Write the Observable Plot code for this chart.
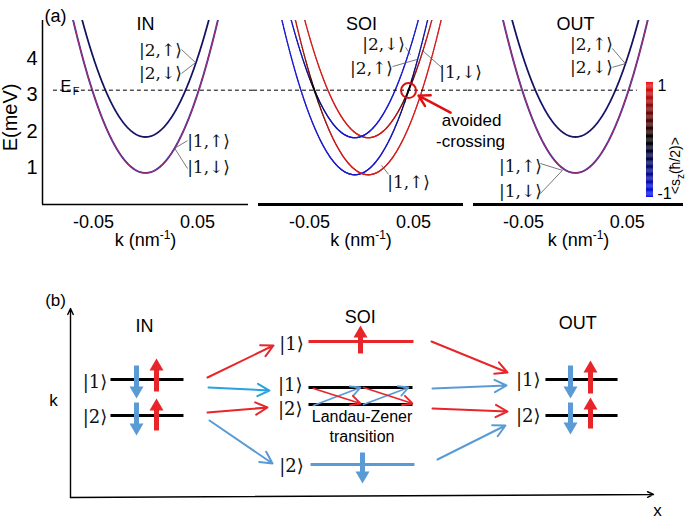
<!DOCTYPE html>
<html><head><meta charset="utf-8">
<script src="https://cdn.jsdelivr.net/npm/d3@7"></script>
<script src="https://cdn.jsdelivr.net/npm/@observablehq/plot@0.6"></script>
<style>
html,body{margin:0;padding:0;background:#fff;}
#root{position:relative;width:685px;height:519px;overflow:hidden;background:#fff;}
#root svg{position:absolute;}
</style></head><body><div id="root"></div>
<script>
// ================= DATA =================
// panel (a): band structure
const panelNames = ["IN", "SOI", "OUT"];
const kTickValues = [-0.05, 0.05];
const eTickValues = [1, 2, 3, 4];
const fermiEnergy = 3.13;                 // meV
const bandCurvature = 870;                // meV nm^2
const subbandMinimaLead = [0.85, 1.84];   // IN / OUT subband bottoms (meV)
const subbandMinimaSOI = [0.80, 1.82];    // SOI subband bottoms (meV)
const spinOrbitShift = 0.0065;            // nm^-1
const mixingCoupling = 0.1;               // meV (spin mixing near anticrossing)
const gapCoupling = 0.02;                 // meV
const kSamples = d3.range(-0.115, 0.11501, 0.0005);
const colorbarValues = d3.range(-1, 1, 0.02);
const colorbarTicks = [1, -1];

const ketLabelsIN = [
  {t: "|2,↑⟩", k: 0.0144, E: 4.22}, {t: "|2,↓⟩", k: 0.0144, E: 3.59},
  {t: "|1,↑⟩", k: 0.0606, E: 1.72}, {t: "|1,↓⟩", k: 0.0606, E: 1.00}
];
const leadersIN = [
  {k1: 0.0346, E1: 4.25, k2: 0.0481, E2: 3.89}, {k1: 0.0346, E1: 3.59, k2: 0.0481, E2: 3.89},
  {k1: 0.0404, E1: 1.74, k2: 0.028, E2: 1.53}, {k1: 0.0404, E1: 0.97, k2: 0.028, E2: 1.53}
];
const ketLabelsSOI = [
  {t: "|2,↓⟩", k: 0.0212, E: 4.39}, {t: "|2,↑⟩", k: 0.0096, E: 3.73},
  {t: "|1,↓⟩", k: 0.0952, E: 3.62}, {t: "|1,↑⟩", k: 0.0452, E: 0.59}
];
const leadersSOI = [
  {k1: 0.0423, E1: 4.31, k2: 0.0471, E2: 4.11}, {k1: 0.0298, E1: 3.78, k2: 0.0538, E2: 3.98},
  {k1: 0.0779, E1: 3.73, k2: 0.0587, E2: 4.22}, {k1: 0.026, E1: 0.81, k2: 0.0192, E2: 1.06}
];
const ketLabelsOUT = [
  {t: "|2,↑⟩", k: 0.0154, E: 4.39}, {t: "|2,↓⟩", k: 0.0154, E: 3.76},
  {t: "|1,↑⟩", k: -0.0529, E: 1.03}, {t: "|1,↓⟩", k: -0.0529, E: 0.34}
];
const leadersOUT = [
  {k1: 0.0356, E1: 4.28, k2: 0.0481, E2: 3.86}, {k1: 0.0356, E1: 3.76, k2: 0.0481, E2: 3.86},
  {k1: -0.0337, E1: 1.11, k2: -0.0125, E2: 0.92}, {k1: -0.0337, E1: 0.28, k2: -0.0125, E2: 0.92}
];
const anticrossingMark = [{k: 0.0452, E: 3.12}];
const anticrossingPointer = [{k1: 0.0856, E1: 2.51, k2: 0.0548, E2: 2.98}];
const anticrossingText = [{t: "avoided", k: 0.1058, E: 2.29}, {t: "-crossing", k: 0.1048, E: 1.72}];

// panel (b): schematic (x = position along wire 0..100, y = k 0..100)
const stageTitles = [{t: "IN", x: 12.7, y: 90.5}, {t: "SOI", x: 49.7, y: 95.2}, {t: "OUT", x: 87.0, y: 92.1}];
const levels = [
  {x1: 6.86, x2: 19.38, y: 62.4, spin: "mixed"}, {x1: 6.86, x2: 19.38, y: 43.4, spin: "mixed"},
  {x1: 40.82, x2: 58.83, y: 82.54, spin: "up"},
  {x1: 40.82, x2: 58.66, y: 58.2, spin: "mixed"}, {x1: 40.82, x2: 58.66, y: 49.21, spin: "mixed"},
  {x1: 41.17, x2: 59.0, y: 17.46, spin: "down"},
  {x1: 81.47, x2: 93.83, y: 62.4, spin: "mixed"}, {x1: 81.47, x2: 93.83, y: 43.4, spin: "mixed"}
];
const spinArrows = [
  {x: 11.32, tail: 69.84, tip: 52.38, spin: "down"}, {x: 14.75, tail: 56.08, tip: 73.54, spin: "up"},
  {x: 11.32, tail: 50.26, tip: 32.8, spin: "down"}, {x: 14.75, tail: 35.45, tip: 52.38, spin: "up"},
  {x: 49.74, tail: 76.19, tip: 91.0, spin: "up"}, {x: 50.09, tail: 23.81, tip: 7.41, spin: "down"},
  {x: 85.76, tail: 69.84, tip: 52.38, spin: "down"}, {x: 89.19, tail: 55.0, tip: 72.5, spin: "up"},
  {x: 85.76, tail: 50.26, tip: 33.3, spin: "down"}, {x: 89.19, tail: 36.5, tip: 52.9, spin: "up"}
];
const transitions = [
  {x1: 23.5, y1: 63.49, x2: 34.82, y2: 80.42, spin: "up"},
  {x1: 23.67, y1: 58.2, x2: 34.13, y2: 56.6, spin: "downLight"},
  {x1: 23.5, y1: 44.97, x2: 33.79, y2: 47.62, spin: "up"},
  {x1: 23.84, y1: 40.74, x2: 34.65, y2: 17.99, spin: "down"},
  {x1: 61.92, y1: 82.54, x2: 74.96, y2: 66.14, spin: "up"},
  {x1: 62.09, y1: 57.67, x2: 74.79, y2: 59.26, spin: "down"},
  {x1: 62.09, y1: 47.09, x2: 74.96, y2: 45.5, spin: "up"},
  {x1: 62.95, y1: 20.11, x2: 74.61, y2: 38.1, spin: "down"}
];
const zenerArrows = [
  {x1: 41.68, y1: 48.68, x2: 49.74, y2: 58.2, spin: "down"},
  {x1: 50.26, y1: 49.21, x2: 57.98, y2: 58.2, spin: "down"},
  {x1: 41.68, y1: 57.67, x2: 49.74, y2: 49.74, spin: "up"},
  {x1: 50.26, y1: 58.2, x2: 58.66, y2: 49.74, spin: "up"}
];
const ketLabelsB = [
  {t: "|1⟩", x: 4.2, y: 61.1}, {t: "|2⟩", x: 4.2, y: 42.6},
  {t: "|1⟩", x: 37.9, y: 80.95}, {t: "|1⟩", x: 37.7, y: 59.3}, {t: "|2⟩", x: 37.7, y: 46.8}, {t: "|2⟩", x: 37.9, y: 16.4},
  {t: "|1⟩", x: 78.5, y: 61.9}, {t: "|2⟩", x: 78.5, y: 42.9}
];
const zenerText = [{t: "Landau-Zener", x: 50.0, y: 42.5}, {t: "transition", x: 50.0, y: 32.3}];
const axesB = [{x1: 0, y1: 0, x2: 0, y2: 100}, {x1: 0, y1: 0, x2: 100, y2: 1.6}];
const axisNamesB = [{t: "k", x: -2.9, y: 51.3}, {t: "x", x: 100.7, y: -7.0}, {t: "(b)", x: -2.57, y: 104.2}];

// ================= STYLE =================
const SANS = "Liberation Sans, Arial, sans-serif";
const KET = "DejaVu Serif, DejaVu Sans, serif";
const RED = "#e8262a", BLUE = "#5b9bd5", CYAN = "#27a4df";
const spinColor = s => s === "up" ? RED : s === "down" ? BLUE : s === "downLight" ? CYAN : "#000";
const root = document.getElementById("root");
const yDomain = [-0.02, 5.05];

function place(svg, left, top) {
  svg.style.left = left + "px"; svg.style.top = top + "px";
  svg.style.overflow = "visible"; svg.style.background = "transparent";
  svg.style.fontFamily = SANS; svg.style.maxWidth = "none";
  root.appendChild(svg);
  return svg;
}
function rich(svg, match, build) {
  d3.select(svg).selectAll("text").filter(function () { return this.textContent === match; })
    .each(function () { const t = d3.select(this); t.text(null); build(t); });
}
const parabola = (E0, k0) => kSamples.map(k => ({k, E: E0 + bandCurvature * (k - k0) ** 2}));

function commonMarks(ketLabels, leaders, title, efExtent, bottomWidth) {
  return [
    Plot.ruleY([fermiEnergy], {x1: efExtent[0], x2: efExtent[1], stroke: "#000", strokeWidth: 1, strokeDasharray: "4,3"}),
    Plot.ruleY([yDomain[0]], {stroke: "#000", strokeWidth: bottomWidth}),
    Plot.axisX(kTickValues, {tickSize: 0, tickPadding: 11, fontSize: 18, fontFamily: SANS, label: null, tickFormat: d => d.toFixed(2)}),
    Plot.text(["k (nm-1)"], {text: d => d, frameAnchor: "bottom", dy: 41, fontSize: 18, fontFamily: SANS}),
    Plot.text([title], {text: d => d, x: 0, frameAnchor: "top", dy: -3, fontSize: 18, fontFamily: SANS}),
    Plot.link(leaders, {x1: "k1", y1: "E1", x2: "k2", y2: "E2", stroke: "#555", strokeWidth: 0.8}),
    Plot.text(ketLabels, {x: "k", y: "E", text: "t", fontSize: 17, fontFamily: KET, fill: "#111"})
  ];
}
function leadCurves() {
  return [
    Plot.line(parabola(subbandMinimaLead[1], 0), {x: "k", y: "E", stroke: "#2a2a9a", strokeWidth: 1.8, clip: true}),
    Plot.line(parabola(subbandMinimaLead[1], 0), {x: "k", y: "E", stroke: "#000", strokeWidth: 0.9, strokeOpacity: 0.7, clip: true}),
    Plot.line(parabola(subbandMinimaLead[0], 0), {x: "k", y: "E", stroke: "#3a2aa8", strokeWidth: 1.9, clip: true}),
    Plot.line(parabola(subbandMinimaLead[0], 0), {x: "k", y: "E", stroke: "#d8304a", strokeWidth: 1.0, strokeOpacity: 0.8, clip: true})
  ];
}

// ---------- IN ----------
const inPlot = Plot.plot({
  width: 253, height: 260, marginTop: 20, marginBottom: 56, marginLeft: 42, marginRight: 5,
  x: {domain: [-0.099, 0.099], label: null}, y: {domain: yDomain, label: null},
  marks: [
    ...leadCurves(),
    Plot.ruleX([-0.099], {stroke: "#000", strokeWidth: 1.5}),
    Plot.axisY(eTickValues, {tickSize: 0, tickPadding: 5, fontSize: 20, fontFamily: SANS, label: null}),
    ...commonMarks(ketLabelsIN, leadersIN, "IN", [-0.0885, 0.1038], 1.5),
    Plot.text(["(a)"], {text: d => d, frameAnchor: "top-left", dx: 2, dy: -11, fontSize: 18, fontFamily: SANS}),
    Plot.text(["E(meV)"], {text: d => d, x: -0.13, y: 2.38, rotate: -90, fontSize: 20, fontFamily: SANS}),
    Plot.text(["E"], {text: d => d, x: -0.0817, y: 3.23, textAnchor: "start", fontSize: 16, fontFamily: SANS}),
    Plot.text(["F"], {text: d => d, x: -0.0700, y: 3.10, textAnchor: "start", fontSize: 11, fontFamily: SANS})
  ]
});
place(inPlot, 0, 0);

// ---------- SOI ----------
function soiSegments() {
  const a = bandCurvature, ks = spinOrbitShift, [E1, E2] = subbandMinimaSOI;
  const pts = kSamples.map(k => {
    const b1 = E1 + a * (k + ks) ** 2, r1 = E1 + a * (k - ks) ** 2;
    const b2 = E2 + a * (k + ks) ** 2, r2 = E2 + a * (k - ks) ** 2;
    const mA = (b1 + r2) / 2, dA = r2 - b1, rootA = Math.sqrt((dA / 2) ** 2 + gapCoupling ** 2);
    const mB = (r1 + b2) / 2, dB = b2 - r1, rootB = Math.sqrt((dB / 2) ** 2 + gapCoupling ** 2);
    const sA = -dA / Math.sqrt(dA * dA + 4 * mixingCoupling ** 2);
    const sB = dB / Math.sqrt(dB * dB + 4 * mixingCoupling ** 2);
    return [
      {k, E: mA - rootA, s: sA}, {k, E: mA + rootA, s: -sA},
      {k, E: mB - rootB, s: sB}, {k, E: mB + rootB, s: -sB}
    ];
  });
  const segs = [];
  for (let c = 0; c < 4; c++) for (let i = 1; i < pts.length; i++) {
    const p = pts[i - 1][c], q = pts[i][c];
    if (p.E > 5.3 && q.E > 5.3) continue;
    segs.push({k1: p.k, E1: p.E, k2: q.k, E2: q.E, s: (p.s + q.s) / 2});
  }
  return segs;
}
const soiPlot = Plot.plot({
  width: 215, height: 260, marginTop: 20, marginBottom: 56, marginLeft: 5, marginRight: 5,
  x: {domain: [-0.099, 0.098], label: null}, y: {domain: yDomain, label: null, axis: null},
  color: {type: "linear", domain: [-1, 0, 1], range: ["#1a1ad0", "#000000", "#d41e1e"]},
  marks: [
    Plot.link(soiSegments(), {x1: "k1", y1: "E1", x2: "k2", y2: "E2", stroke: "s", strokeWidth: 1.3, strokeLinecap: "round", clip: true}),
    ...commonMarks(ketLabelsSOI, leadersSOI, "SOI", [-0.1038, 0.1029], 3),
    Plot.dot(anticrossingMark, {x: "k", y: "E", r: 7.5, stroke: "#e01010", strokeWidth: 2, fill: "none"}),
    Plot.arrow(anticrossingPointer, {x1: "k1", y1: "E1", x2: "k2", y2: "E2", stroke: "#e01010", strokeWidth: 2.5, headLength: 9}),
    Plot.text(anticrossingText, {x: "k", y: "E", text: "t", fontSize: 17, fontFamily: SANS})
  ]
});
place(soiPlot, 253, 0);

// ---------- OUT ----------
const outPlot = Plot.plot({
  width: 217, height: 260, marginTop: 20, marginBottom: 56, marginLeft: 5, marginRight: 2,
  x: {domain: [-0.098, 0.104], label: null}, y: {domain: yDomain, label: null, axis: null},
  marks: [
    ...leadCurves(),
    ...commonMarks(ketLabelsOUT, leadersOUT, "OUT", [-0.1029, 0.0596], 3)
  ]
});
place(outPlot, 468, 0);

// ---------- colour bar ----------
const barPlot = Plot.plot({
  width: 55, height: 140, marginTop: 12, marginBottom: 13, marginLeft: 16, marginRight: 32,
  x: {domain: [0, 1], axis: null}, y: {domain: [-1, 1], axis: null},
  color: {type: "linear", domain: [-1, 0, 1], range: ["#0a14f5", "#000000", "#f01414"]},
  marks: [
    Plot.rect(colorbarValues, {x1: 0, x2: 1, y1: d => d, y2: d => d + 0.021, fill: d => d + 0.01}),
    Plot.text(colorbarTicks, {text: d => String(d), y: d => d * 0.94, frameAnchor: "right", dx: 4, textAnchor: "start", fontSize: 16, fontFamily: SANS}),
    Plot.text(["<sz(ħ/2)>"], {text: d => d, y: 0.05, frameAnchor: "right", dx: 22, rotate: -90, fontSize: 14, fontFamily: SANS})
  ]
});
place(barPlot, 630, 70);

// ---------- panel (b) ----------
const triUp = {draw(ctx) { ctx.moveTo(0, -8); ctx.lineTo(7, 4); ctx.lineTo(-7, 4); ctx.closePath(); }};
const triDown = {draw(ctx) { ctx.moveTo(0, 8); ctx.lineTo(7, -4); ctx.lineTo(-7, -4); ctx.closePath(); }};
const schemePlot = Plot.plot({
  width: 685, height: 229, marginTop: 18, marginBottom: 22, marginLeft: 70, marginRight: 32,
  x: {domain: [0, 100], axis: null}, y: {domain: [0, 100], axis: null},
  marks: [
    Plot.arrow(axesB, {x1: "x1", y1: "y1", x2: "x2", y2: "y2", stroke: "#000", strokeWidth: 1.4, headLength: 7, headAngle: 50}),
    Plot.link(levels, {x1: "x1", x2: "x2", y1: "y", y2: "y", stroke: d => spinColor(d.spin), strokeWidth: 3}),
    Plot.arrow(spinArrows, {x1: "x", x2: "x", y1: "tail", y2: "tip", stroke: d => spinColor(d.spin), strokeWidth: 5, headLength: 0, insetEnd: 9, strokeLinecap: "butt"}),
    Plot.dot(spinArrows.filter(d => d.spin === "up"), {x: "x", y: "tip", symbol: triUp, r: 5, fill: RED, stroke: "none", dy: 8}),
    Plot.dot(spinArrows.filter(d => d.spin === "down"), {x: "x", y: "tip", symbol: triDown, r: 5, fill: BLUE, stroke: "none", dy: -8}),
    Plot.arrow(transitions, {x1: "x1", y1: "y1", x2: "x2", y2: "y2", stroke: d => spinColor(d.spin), strokeWidth: 2, headLength: 10, headAngle: 55}),
    Plot.arrow(zenerArrows, {x1: "x1", y1: "y1", x2: "x2", y2: "y2", stroke: d => spinColor(d.spin), strokeWidth: 1.8, headLength: 9, headAngle: 55}),
    Plot.text(ketLabelsB, {x: "x", y: "y", text: "t", fontSize: 18, fontFamily: KET, fill: "#111"}),
    Plot.text(stageTitles, {x: "x", y: "y", text: "t", fontSize: 18, fontFamily: SANS}),
    Plot.text(zenerText, {x: "x", y: "y", text: "t", fontSize: 16, fontFamily: SANS}),
    Plot.text(axisNamesB, {x: "x", y: "y", text: "t", fontSize: 17, fontFamily: SANS})
  ]
});
place(schemePlot, 0, 290);

// ---------- rich text (sub/superscripts) ----------
for (const svg of [inPlot, soiPlot, outPlot]) {
  rich(svg, "k (nm-1)", t => {
    t.append("tspan").text("k (nm");
    t.append("tspan").attr("dy", -7).attr("font-size", 12).text("-1");
    t.append("tspan").attr("dy", 7).text(")");
  });
}
rich(barPlot, "<sz(ħ/2)>", t => {
  t.append("tspan").text("<s");
  t.append("tspan").attr("dy", 4).attr("font-size", 10).text("z");
  t.append("tspan").attr("dy", -4).text("(ħ/2)>");
});
</script></body></html>
